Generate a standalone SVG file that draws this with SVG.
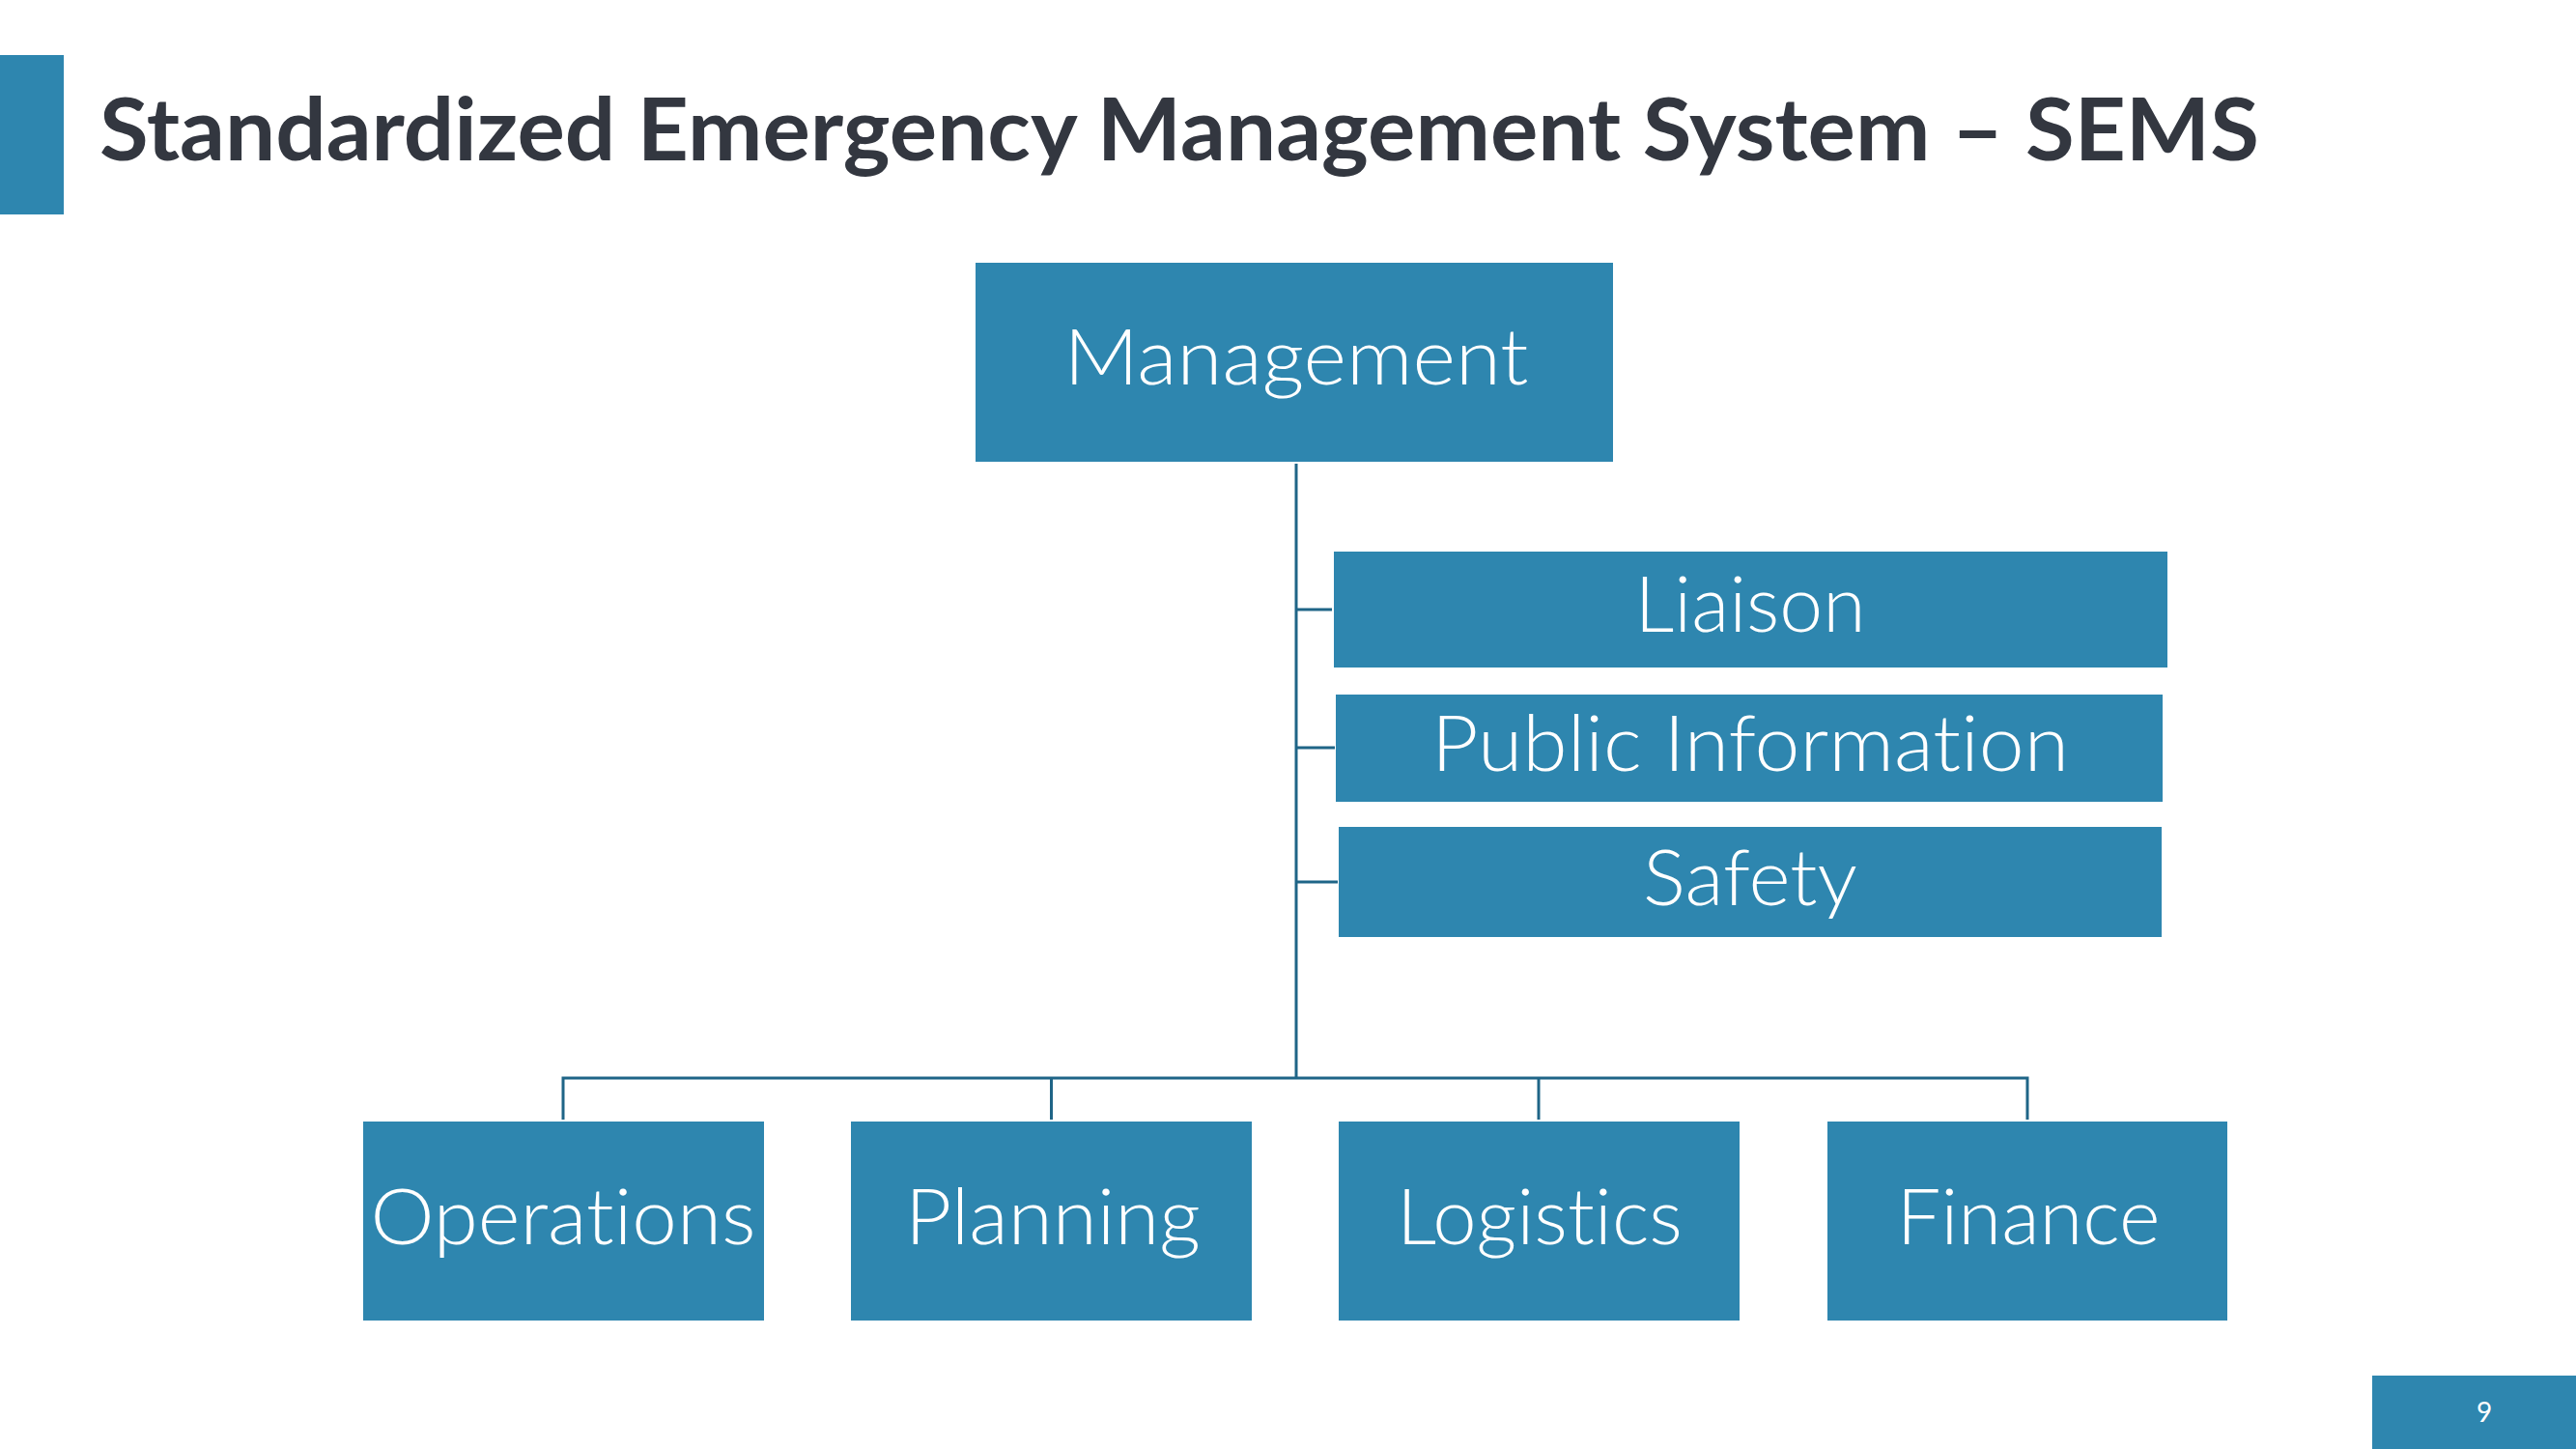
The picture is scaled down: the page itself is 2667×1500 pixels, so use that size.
<svg xmlns="http://www.w3.org/2000/svg" width="2667" height="1500" viewBox="0 0 2667 1500">
<style>
.box{fill:#2E86AF}
.lbl{font-family:Lato,"Open Sans","Liberation Sans",sans-serif;font-size:80px;font-weight:300;fill:#FFFFFF;text-anchor:middle;font-variant-ligatures:none;font-feature-settings:"liga" 0}
.conn{stroke:#1F6587;stroke-width:3;fill:none}
.title{font-family:Lato,"Open Sans","Liberation Sans",sans-serif;font-weight:bold;font-size:89px;fill:#333740;font-variant-ligatures:none}
</style>
<rect width="2667" height="1500" fill="#FFFFFF"/>
<rect x="0" y="57" width="66" height="165" fill="#2E86AF"/>
<text class="title" x="103" y="166" textLength="2236" lengthAdjust="spacingAndGlyphs">Standardized Emergency Management System – SEMS</text>
<g id="connectors">
<path class="conn" d="M1342 480 V1116"/>
<path class="conn" d="M1342 631 H1379"/>
<path class="conn" d="M1342 774 H1382"/>
<path class="conn" d="M1342 913 H1385"/>
<path class="conn" d="M583 1159 V1116 H2099 V1159"/>
<path class="conn" d="M1088.5 1116 V1159"/>
<path class="conn" d="M1593 1116 V1159"/>
</g>
<g id="management"><rect class="box" x="1010" y="272" width="660" height="206"/><text class="lbl" x="1342" y="398" textLength="481" lengthAdjust="spacingAndGlyphs">Management</text></g>
<g id="liaison"><rect class="box" x="1381" y="571" width="863" height="120"/><text class="lbl" x="1812" y="654" textLength="239" lengthAdjust="spacingAndGlyphs">Liaison</text></g>
<g id="public-information"><rect class="box" x="1383" y="719" width="856" height="111"/><text class="lbl" x="1812" y="798" textLength="660" lengthAdjust="spacingAndGlyphs">Public Information</text></g>
<g id="safety"><rect class="box" x="1386" y="856" width="852" height="114"/><text class="lbl" x="1812" y="937" textLength="222" lengthAdjust="spacingAndGlyphs">Safety</text></g>
<g id="operations"><rect class="box" x="376" y="1161" width="415" height="206"/><text class="lbl" x="583" y="1288" textLength="399" lengthAdjust="spacingAndGlyphs">Operations</text></g>
<g id="planning"><rect class="box" x="881" y="1161" width="415" height="206"/><text class="lbl" x="1090" y="1288" textLength="306" lengthAdjust="spacingAndGlyphs">Planning</text></g>
<g id="logistics"><rect class="box" x="1386" y="1161" width="415" height="206"/><text class="lbl" x="1594" y="1288" textLength="296" lengthAdjust="spacingAndGlyphs">Logistics</text></g>
<g id="finance"><rect class="box" x="1892" y="1161" width="414" height="206"/><text class="lbl" x="2100" y="1288" textLength="273" lengthAdjust="spacingAndGlyphs">Finance</text></g>
<rect x="2456" y="1424" width="211" height="76" fill="#2E86AF"/>
<text x="2572" y="1472" font-family="Lato,'Open Sans','Liberation Sans',sans-serif" font-size="28" fill="#FFFFFF" text-anchor="middle">9</text>
</svg>
